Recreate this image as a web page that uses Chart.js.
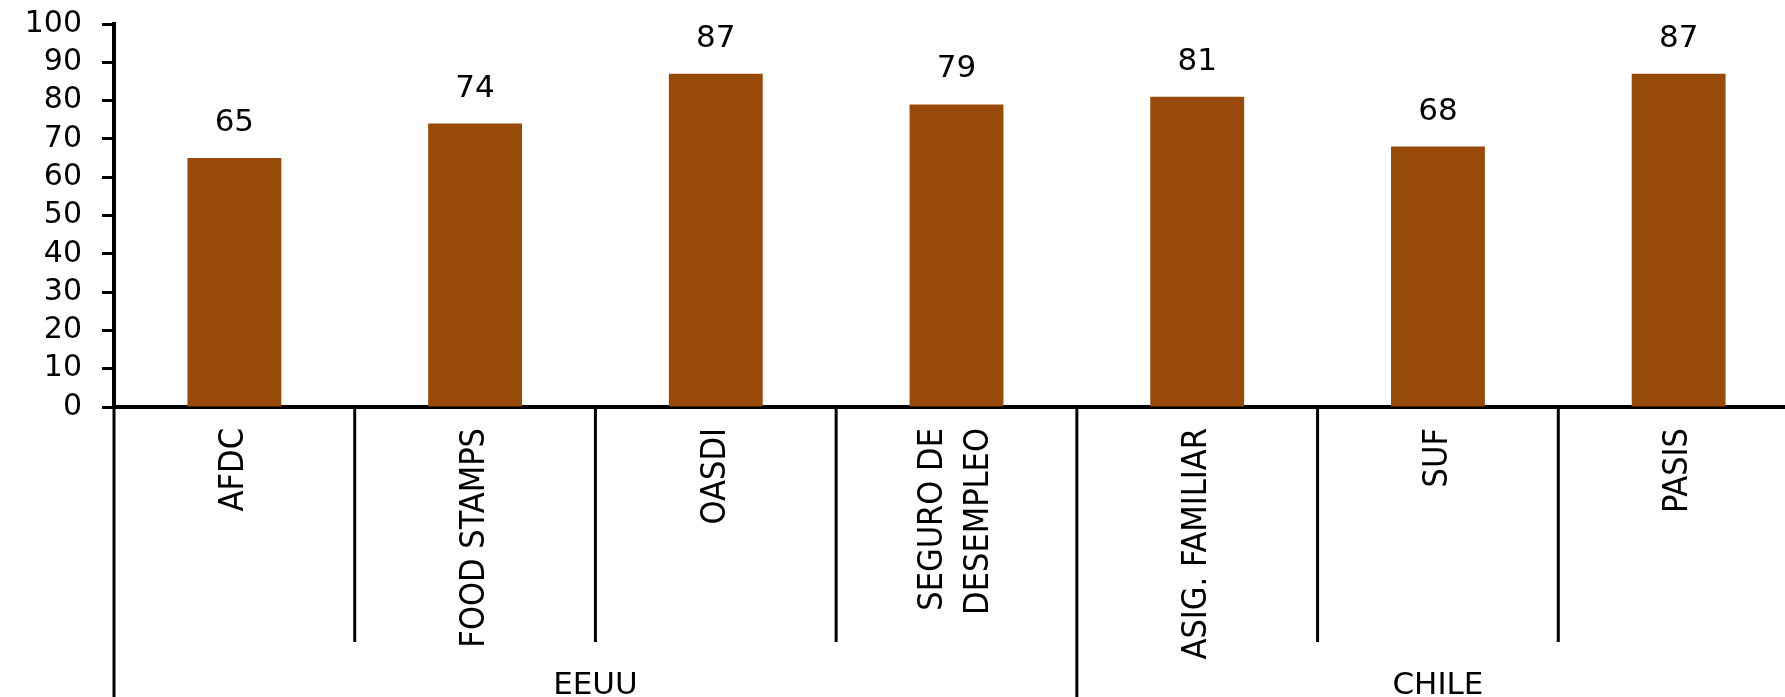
<!DOCTYPE html>
<html>
<head>
<meta charset="utf-8">
<script src="https://cdn.jsdelivr.net/npm/chart.js@4.4.1/dist/chart.umd.min.js"></script>
<style>
html, body { margin: 0; padding: 0; overflow: hidden; background: #fff; }
#wrap { width: 1799px; height: 697px; position: relative; }
</style>
</head>
<body>
<div id="wrap"><canvas id="chart"></canvas></div>
<script>
// programas sociales y su cobertura (%)
const programas = [['AFDC'], ['FOOD STAMPS'], ['OASDI'], ['SEGURO DE', 'DESEMPLEO'], ['ASIG. FAMILIAR'], ['SUF'], ['PASIS']];
const cobertura = [65, 74, 87, 79, 81, 68, 87];
const grupos = ['EEUU', 'CHILE'];
const grupoDesde = [0, 4];
const grupoHasta = [4, 7];
const yMin = 0, yMax = 100, yPaso = 10;

const extras = {
    id: 'extras',
    afterDraw(chart) {
        const ctx = chart.ctx;
        const area = chart.chartArea;
        const x = chart.scales.x;
        const paso = x.getPixelForTick(1) - x.getPixelForTick(0);
        const borde = i => x.getPixelForTick(0) - paso / 2 + i * paso;

        ctx.save();
        // separadores de categorias y de grupos
        ctx.strokeStyle = '#000';
        ctx.lineWidth = 3;
        for (let i = 0; i <= programas.length; i++) {
            const largo = grupoDesde.includes(i);
            ctx.beginPath();
            ctx.moveTo(borde(i), area.bottom);
            ctx.lineTo(borde(i), largo ? chart.height : area.bottom + 235);
            ctx.stroke();
        }

        ctx.fillStyle = '#000';

        // nombres de programa, verticales
        ctx.font = '34px "DejaVu Sans Condensed", "DejaVu Sans"';
        ctx.textAlign = 'right';
        ctx.textBaseline = 'middle';
        programas.forEach((lineas, i) => {
            const cx = x.getPixelForTick(i);
            lineas.forEach((t, j) => {
                ctx.save();
                ctx.translate(cx + (j - (lineas.length - 1) / 2) * 46, area.bottom + 21);
                ctx.rotate(-Math.PI / 2);
                ctx.fillText(t, 0, 0);
                ctx.restore();
            });
        });

        // nombres de grupo
        ctx.font = '31px "DejaVu Sans"';
        ctx.textAlign = 'center';
        ctx.textBaseline = 'alphabetic';
        grupos.forEach((g, k) => {
            ctx.fillText(g, (borde(grupoDesde[k]) + borde(grupoHasta[k])) / 2, 694);
        });

        // valores sobre las barras
        ctx.font = '31px "DejaVu Sans"';
        chart.getDatasetMeta(0).data.forEach((bar, i) => {
            ctx.fillText(cobertura[i], bar.x, bar.y - 27);
        });
        ctx.restore();
    }
};

new Chart(document.getElementById('chart'), {
    type: 'bar',
    data: {
        labels: programas,
        datasets: [{
            data: cobertura,
            backgroundColor: '#974A09',
            borderWidth: 0,
            categoryPercentage: 1,
            barPercentage: 0.39
        }]
    },
    options: {
        responsive: true,
        maintainAspectRatio: false,
        animation: false,
        layout: { padding: { top: 24, right: 0, left: 0, bottom: 0 } },
        plugins: { legend: { display: false }, tooltip: { enabled: false } },
        scales: {
            x: {
                grid: { display: false, drawTicks: false },
                border: { display: true, color: '#000', width: 4 },
                ticks: { display: false },
                afterFit: s => { s.height = 290; }
            },
            y: {
                min: yMin,
                max: yMax,
                grid: { drawOnChartArea: false, drawTicks: true, tickLength: 12, tickWidth: 3, tickColor: '#000' },
                border: { display: true, color: '#000', width: 4 },
                ticks: {
                    stepSize: yPaso,
                    autoSkip: false,
                    color: '#000',
                    font: { family: '"DejaVu Sans"', size: 30, lineHeight: 1 },
                    padding: 20
                },
                afterFit: s => { s.width = 114; s.paddingTop = 0; s.paddingBottom = 0; }
            }
        }
    },
    plugins: [extras]
});
</script>
</body>
</html>
